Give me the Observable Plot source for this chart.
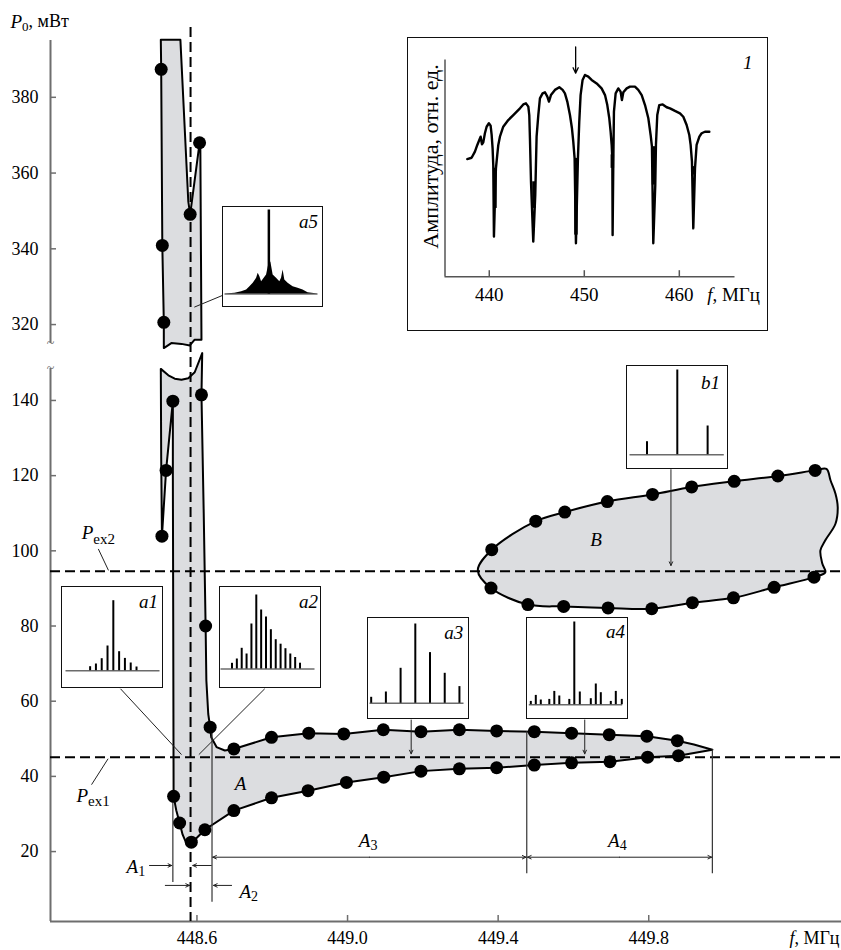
<!DOCTYPE html>
<html><head><meta charset="utf-8">
<script src="https://cdn.jsdelivr.net/npm/d3@7"></script>
<script src="https://cdn.jsdelivr.net/npm/@observablehq/plot@0.6"></script>
<style>
body{margin:0;background:#fff;}
#wrap{position:relative;width:841px;height:950px;font-family:"Liberation Serif","DejaVu Serif",serif;}
#wrap > svg{position:absolute;left:0;top:0;}
#wrap svg text{font-family:"Liberation Serif","DejaVu Serif",serif !important;}
.inset{position:absolute;background:#fff;border:1.5px solid #111;box-sizing:border-box;}
.inset svg{position:absolute;left:0;top:0;}
</style></head><body><div id="wrap"></div>
<script>
// ================= DATA =================
const freqTicks = [448.6, 449.0, 449.4, 449.8];
const powerTicksLow = [20, 40, 60, 80, 100, 120, 140];
const powerTicksUp = [320, 340, 360, 380];
const fCenter = 448.583;           // dashed vertical line, MHz
const Pex1 = 45.1, Pex2 = 94.6;    // thresholds, mW

// upper panel (P0 > 315 mW)
const upperDotF = [448.505, 448.508, 448.512, 448.582, 448.607];
const upperDotP = [387.4, 340.9, 320.6, 349.1, 368.0];
const upperRegionF = [448.504, 448.556, 448.577, 448.582, 448.607, 448.609, 448.612, 448.594, 448.581, 448.559, 448.532, 448.512, 448.512, 448.508, 448.505];
const upperRegionP = [395.2, 395.2, 352.5, 349.1, 368.0, 366.8, 316.0, 316.0, 314.5, 314.9, 315.1, 313.8, 320.6, 340.9, 387.4];

// region A – measured points
const leftDotF = [448.507, 448.518, 448.536, 448.612, 448.623, 448.635, 448.538, 448.554, 448.585];
const leftDotP = [103.9, 121.4, 139.8, 141.5, 80.0, 53.1, 34.7, 27.6, 22.5];
const aUpperF = [448.698, 448.798, 448.897, 448.990, 449.095, 449.195, 449.297, 449.396, 449.496, 449.595, 449.695, 449.795, 449.876];
const aUpperP = [47.3, 50.4, 51.5, 51.3, 52.4, 51.9, 52.4, 52.1, 51.9, 51.5, 51.1, 50.7, 49.5];
const aLowerF = [448.621, 448.698, 448.798, 448.895, 448.997, 449.096, 449.195, 449.297, 449.396, 449.496, 449.595, 449.697, 449.797, 449.879];
const aLowerP = [25.8, 30.9, 34.3, 36.2, 38.4, 39.8, 41.4, 42.0, 42.3, 43.0, 43.6, 43.9, 45.1, 45.5];
// region A – outline
const regionAF = [448.504, 448.524, 448.541, 448.559, 448.577, 448.594, 448.614, 448.612, 448.618, 448.623, 448.625, 448.630, 448.635, 448.638, 448.652, 448.674, 448.698, 448.798, 448.897, 448.990, 449.095, 449.195, 449.297, 449.396, 449.496, 449.595, 449.695, 449.795, 449.876, 449.920, 449.969, 449.920, 449.879, 449.797, 449.697, 449.595, 449.496, 449.396, 449.297, 449.195, 449.096, 448.997, 448.895, 448.798, 448.698, 448.621, 448.603, 448.585, 448.572, 448.562, 448.554, 448.545, 448.538, 448.537, 448.536, 448.536, 448.518, 448.507, 448.505];
const regionAP = [148.4, 146.7, 145.8, 145.5, 145.9, 147.5, 152.6, 141.5, 110.0, 80.0, 65.5, 56.6, 53.1, 50.4, 47.8, 46.9, 47.3, 50.4, 51.5, 51.3, 52.4, 51.9, 52.4, 52.1, 51.9, 51.5, 51.1, 50.7, 49.5, 48.5, 47.1, 46.2, 45.5, 45.1, 43.9, 43.6, 43.0, 42.3, 42.0, 41.4, 39.8, 38.4, 36.2, 34.3, 30.9, 25.8, 24.0, 22.2, 22.2, 24.5, 27.6, 31.0, 34.7, 80.0, 120.0, 139.8, 121.4, 103.9, 125.0];

// region B
const bUpperF = [449.383, 449.500, 449.577, 449.690, 449.810, 449.914, 450.027, 450.143, 450.242];
const bUpperP = [100.3, 107.9, 110.3, 113.1, 115.0, 117.0, 118.5, 119.9, 121.4];
const bLowerF = [449.381, 449.479, 449.574, 449.692, 449.808, 449.916, 450.025, 450.133, 450.239];
const bLowerP = [90.1, 85.7, 85.2, 84.8, 84.6, 86.2, 87.5, 90.3, 93.0];
const bEdgeF = [450.272, 450.283, 450.296, 450.302, 450.296, 450.269, 450.256, 450.261, 450.269];
const bEdgeP = [121.8, 118.7, 115.2, 111.6, 107.2, 102.8, 100.1, 96.6, 94.3];
const bTip = [449.346, 94.8];

// ranges A1..A4 (MHz)
const markerF  = [448.536, 448.640, 449.476, 449.969];
const markerP1 = [34.7, 52.2, 51.9, 47.1];
const markerP2 = [11.8, 6.5, 14.1, 14.1];

// inset 1: amplitude vs frequency
const insetTicks = [440, 450, 460];
const insetF = [437.68, 438.14, 438.49, 438.74, 438.95, 439.09, 439.23, 439.37, 439.54, 439.72, 439.96, 440.14, 440.25, 440.35, 440.42, 440.49, 440.63, 440.70, 440.84, 440.95, 441.12, 441.47, 442.0, 442.53, 443.23, 443.58, 443.86, 444.11, 444.21, 444.28, 444.39, 444.63, 444.84, 444.91, 444.98, 445.16, 445.33, 445.61, 445.86, 446.11, 446.28, 446.49, 446.91, 447.37, 447.72, 447.96, 448.21, 448.49, 448.70, 448.84, 448.98, 449.12, 449.33, 449.47, 449.61, 449.82, 450.07, 450.42, 450.77, 451.30, 451.82, 452.18, 452.42, 452.63, 452.77, 452.88, 452.95, 452.98, 453.05, 453.12, 453.30, 453.58, 453.82, 453.96, 454.11, 454.46, 454.81, 455.33, 455.68, 456.04, 456.39, 456.74, 456.98, 457.12, 457.26, 457.47, 457.54, 457.68, 457.89, 458.25, 458.67, 459.02, 459.54, 460.07, 460.42, 460.77, 461.05, 461.19, 461.33, 461.47, 461.65, 461.82, 462.11, 462.35, 462.70, 463.16];
const insetA = [54.3, 54.9, 57.7, 60.8, 63.1, 64.6, 61.1, 62.0, 66.2, 69.2, 70.8, 69.7, 65.4, 59.2, 51.5, 18.5, 40.8, 50.0, 56.2, 60.8, 64.6, 69.2, 72.3, 74.6, 77.7, 79.5, 80.0, 78.5, 74.6, 63.8, 43.8, 16.2, 37.7, 51.5, 64.6, 74.6, 82.3, 84.6, 85.1, 83.1, 80.8, 83.8, 86.2, 87.4, 86.2, 84.6, 80.8, 74.6, 68.5, 62.3, 54.6, 15.4, 54.6, 71.5, 83.8, 90.8, 93.1, 92.3, 90.8, 89.2, 86.9, 83.8, 79.2, 73.1, 66.9, 60.8, 54.6, 19.2, 51.5, 76.2, 84.6, 86.9, 85.4, 81.5, 85.1, 86.9, 87.7, 87.7, 86.2, 83.8, 79.2, 73.1, 65.4, 60.0, 15.4, 42.3, 60.8, 74.6, 79.2, 79.5, 78.2, 77.7, 76.5, 75.4, 73.8, 70.0, 65.4, 60.8, 53.1, 22.3, 50.0, 60.8, 64.6, 66.2, 66.9, 66.9];
const dipF = [440.60, 444.70, 449.12, 452.95, 457.28, 461.54];
const dipTop = [50.0, 43.8, 54.6, 56.2, 60.0, 50.8];
const dipBottom = [31.5, 31.5, 19.2, 50.0, 42.3, 46.9];
const insetArrowF = 449.09;

// spectra insets (relative line index, relative amplitude)
const a1X = [-4, -3, -2, -1, 0, 1, 2, 3, 4];
const a1H = [4, 6.7, 12, 24.7, 70, 19, 12.3, 7.7, 3.7];
const a2X = [0, 1, 2, 3, 4, 5, 6, 7, 8, 9, 10, 11, 12, 13, 14];
const a2H = [5.7, 10, 20.7, 15, 45, 74, 59, 52, 39.3, 29.3, 24.8, 20.3, 15, 11.5, 5.8];
const a3X = [-3, -2, -1, 0, 1, 2, 3];
const a3H = [6, 11.3, 35, 79.3, 50.7, 30, 16.7];
const a4X = [-8.7, -7.7, -6.7, -5, -4, -3, -1, 0, 1.1, 3.3, 4.3, 5.3, 7.3, 8.3, 9.5];
const a4H = [3.3, 9.3, 4.7, 5.3, 13.3, 8.7, 5.3, 82.7, 12.7, 6, 20.7, 12, 3.3, 13.3, 5.3];
const b1X = [-1, 0, 1];
const b1H = [13, 84.7, 28.7];
const a5X = [-44, -34, -27.3, -22.3, -19, -15.7, -12.3, -10.7, -9, -7.3, -4.7, -2.3, 0, 2, 4.3, 7.7, 11, 12.7, 14.3, 16, 19.3, 24.3, 29.3, 34.3, 39.3, 49.3];
const a5H = [0, 0.7, 2.3, 4, 7.3, 10.7, 15.7, 20.7, 17.3, 12.3, 15.7, 19, 30, 32, 19, 15.7, 12.3, 15.7, 24, 14, 10.7, 7.3, 5.7, 4, 1.3, 0];
const a5Peak = 84;

// ================= HELPERS =================
const FONT = '"Liberation Serif", "DejaVu Serif", serif';
const GRAY = "#dcdde0", AX = "#6e6e6e";
const wrap = document.getElementById("wrap");
const ctx = document.createElement("canvas").getContext("2d");
function textW(t, size, italic) { ctx.font = `${italic ? "italic " : ""}${size}px "Liberation Serif"`; return ctx.measureText(t).width; }
function T(data, opts) { return Plot.text(data, {fontFamily: FONT, ...opts}); }
function rich(x, y, parts, {anchor = "start", dx = 0, dy = 0} = {}) {
  const ws = parts.map(p => textW(p.t, p.size, p.italic));
  const total = d3.sum(ws);
  let off = anchor === "start" ? 0 : anchor === "end" ? -total : -total / 2;
  return parts.map((p, i) => {
    const m = T([0], {x, y, text: () => p.t, fontSize: p.size, fontStyle: p.italic ? "italic" : "normal",
      textAnchor: "start", lineAnchor: "middle", dx: dx + off, dy: dy + (p.shift || 0)});
    off += ws[i];
    return m;
  });
}
const sub = (main, s, size = 19, ssize = 14, shift = 5) => [{t: main, italic: true, size}, {t: s, size: ssize, shift}];
const pts = (F, P) => F.map((f, i) => ({f, p: P[i]}));

const X = {domain: [448.211, 450.312], range: [50, 841], axis: null};
const YL = {domain: [1.4, 148.5], range: [921, 368], axis: null};
const YU = {domain: [315, 395], range: [343, 40], axis: null};
const xS = d3.scaleLinear(X.domain, X.range);
const yLS = d3.scaleLinear(YL.domain, YL.range);
const yUS = d3.scaleLinear(YU.domain, YU.range);
const x0 = X.domain[0], x1 = X.domain[1];
const tickEndX = xS.invert(X.range[0] + 6);

// ================= LOWER PANEL =================
const regionA = pts(regionAF, regionAP);
const regionB = [{f: bTip[0], p: bTip[1]}, ...pts(bUpperF, bUpperP), ...pts(bEdgeF, bEdgeP), ...pts(bLowerF, bLowerP).reverse()];
const lowerDots = [...pts(leftDotF, leftDotP), ...pts(aUpperF, aUpperP), ...pts(aLowerF, aLowerP), ...pts(bUpperF, bUpperP), ...pts(bLowerF, bLowerP)];
const markers = markerF.map((f, i) => ({f, p1: markerP1[i], p2: markerP2[i]}));
const yA = 18.5;
const rangeArrows = [
  {f1: 448.474, f2: 448.533, p: 16.3}, {f1: 448.516, f2: 448.580, p: 11.0},
  {f1: 448.692, f2: 448.644, p: 11.0}, {f1: 448.638, f2: 448.589, p: 16.3},
  {f1: (markerF[1] + markerF[2]) / 2, f2: markerF[1] + 0.002, p: yA}, {f1: (markerF[1] + markerF[2]) / 2, f2: markerF[2] - 0.002, p: yA},
  {f1: (markerF[2] + markerF[3]) / 2, f2: markerF[2] + 0.002, p: yA}, {f1: (markerF[2] + markerF[3]) / 2, f2: markerF[3] - 0.002, p: yA}
];
const insetArrows = [
  {f: 449.169, p1: 55.0, p2: 46.0}, {f: 449.630, p1: 55.0, p2: 46.0}, {f: 449.859, p1: 121.6, p2: 96.1}
];
const leaders = [
  {fa: 448.397, pa: 63.3, fb: 448.559, pb: 45.8}, {fa: 448.780, pa: 63.3, fb: 448.605, pb: 45.8},
  {fa: 448.338, pa: 100.5, fb: 448.365, pb: 94.8}, {fa: 448.320, pa: 37.8, fb: 448.364, pb: 44.7}
];

const lower = Plot.plot({
  width: 841, height: 950, x: X, y: YL,
  style: {background: "transparent", fontFamily: FONT, overflow: "visible"},
  marks: [
    Plot.line(regionA, {x: "f", y: "p", curve: "linear-closed", fill: GRAY, stroke: "black", strokeWidth: 2, strokeLinejoin: "round"}),
    Plot.line(regionB, {x: "f", y: "p", curve: "catmull-rom-closed", fill: GRAY, stroke: "black", strokeWidth: 2}),
    Plot.ruleX([x0], {y1: YL.domain[0], y2: YL.domain[1], stroke: AX, strokeWidth: 2}),
    Plot.ruleY([YL.domain[0]], {x1: x0, x2: x1, stroke: AX, strokeWidth: 2}),
    Plot.ruleY(powerTicksLow, {x1: x0, x2: tickEndX, stroke: AX, strokeWidth: 1.5}),
    Plot.ruleX(freqTicks, {y1: YL.domain[0], y2: yLS.invert(YL.range[0] - 6), stroke: AX, strokeWidth: 1.5}),
    T(powerTicksLow, {x: x0, y: d => d, text: d => String(d), textAnchor: "end", dx: -12, fontSize: 18}),
    T(freqTicks, {x: d => d, y: YL.domain[0], text: d => d.toFixed(1), dy: 17, fontSize: 18}),
    T(["~"], {x: x0, y: YL.domain[1], text: d => d, fontSize: 14, fill: AX}),
    ...rich(x1, YL.domain[0], [{t: "f", italic: true, size: 18}, {t: ", МГц", size: 18}], {anchor: "end", dx: -2, dy: 17}),
    Plot.ruleY([Pex1, Pex2], {x1: x0, x2: x1, stroke: "black", strokeWidth: 2, strokeDasharray: "10,5"}),
    Plot.ruleX(markers, {x: "f", y1: "p1", y2: "p2", stroke: "#333", strokeWidth: 1.2}),
    Plot.arrow(rangeArrows, {x1: "f1", x2: "f2", y1: "p", y2: "p", headLength: 6, headAngle: 50, stroke: "#222", strokeWidth: 1}),
    Plot.arrow(insetArrows, {x1: "f", x2: "f", y1: "p1", y2: "p2", headLength: 6, headAngle: 50, stroke: "#222", strokeWidth: 1}),
    Plot.link(leaders, {x1: "fa", y1: "pa", x2: "fb", y2: "pb", stroke: "#222", strokeWidth: 1}),
    Plot.dot(lowerDots, {x: "f", y: "p", r: 6.5, fill: "black"}),
    ...rich(448.413, 16.0, sub("A", "1")),
    ...rich(448.713, 9.4, sub("A", "2")),
    ...rich(449.030, 22.9, sub("A", "3")),
    ...rich(449.692, 22.9, sub("A", "4")),
    ...rich(448.294, 104.7, sub("P", "ex2", 19, 15, 6)),
    ...rich(448.280, 34.9, sub("P", "ex1", 19, 15, 6)),
    T(["A"], {x: 448.716, y: 38.0, text: d => d, fontStyle: "italic", fontSize: 19}),
    T(["B"], {x: 449.660, y: 102.8, text: d => d, fontStyle: "italic", fontSize: 19})
  ]
});
wrap.appendChild(lower);

// ================= UPPER PANEL =================
const upper = Plot.plot({
  width: 841, height: 950, x: X, y: YU,
  style: {background: "transparent", fontFamily: FONT, overflow: "visible"},
  marks: [
    Plot.line(pts(upperRegionF, upperRegionP), {x: "f", y: "p", curve: "linear-closed", fill: GRAY, stroke: "black", strokeWidth: 2, strokeLinejoin: "round"}),
    Plot.ruleX([x0], {y1: YU.domain[0], y2: YU.domain[1], stroke: AX, strokeWidth: 2}),
    Plot.ruleY(powerTicksUp, {x1: x0, x2: tickEndX, stroke: AX, strokeWidth: 1.5}),
    T(powerTicksUp, {x: x0, y: d => d, text: d => String(d), textAnchor: "end", dx: -12, fontSize: 18}),
    T(["~"], {x: x0, y: YU.domain[0], text: d => d, fontSize: 14, fill: AX}),
    ...rich(x0, yUS.invert(21), [{t: "P", italic: true, size: 19}, {t: "0", size: 13, shift: 5}, {t: ", мВт", size: 18}], {dx: -40}),
    Plot.ruleX([fCenter], {y1: yUS.invert(27), y2: yUS.invert(YL.range[0]), stroke: "black", strokeWidth: 2, strokeDasharray: "10,5"}),
    Plot.link([{fa: 448.668, pa: 327.7, fb: 448.593, pb: 324.6}], {x1: "fa", y1: "pa", x2: "fb", y2: "pb", stroke: "#222", strokeWidth: 1}),
    Plot.dot(pts(upperDotF, upperDotP), {x: "f", y: "p", r: 6.5, fill: "black"})
  ]
});
wrap.appendChild(upper);

// ================= INSETS =================
function insetDiv(left, top, w, h) {
  const div = document.createElement("div");
  div.className = "inset";
  Object.assign(div.style, {left: left + "px", top: top + "px", width: w + "px", height: h + "px"});
  wrap.appendChild(div);
  return div;
}
function spectrumInset({left, top, w, h, xs, hs, xDomain, mL, mR, mT, mB, label, lx, ly}) {
  const div = insetDiv(left, top, w, h);
  const W = w - 3, H = h - 3;
  const data = xs.map((x, i) => ({x, h: hs[i]}));
  div.appendChild(Plot.plot({
    width: W, height: H, marginLeft: mL, marginRight: mR, marginTop: mT, marginBottom: mB,
    x: {domain: xDomain, axis: null}, y: {domain: [0, d3.max(hs)], axis: null},
    style: {background: "transparent", fontFamily: FONT, overflow: "visible"},
    marks: [
      Plot.ruleY([0], {x1: xDomain[0], x2: xDomain[1], stroke: "#6b6b6b", strokeWidth: 1.5}),
      Plot.ruleX(data, {x: "x", y1: 0, y2: "h", stroke: "black", strokeWidth: 2}),
      T([label], {frameAnchor: "top-right", text: d => d, dx: lx - (W - mR), dy: ly - mT, fontSize: 19, fontStyle: "italic", textAnchor: "end", lineAnchor: "middle"})
    ]
  }));
}
spectrumInset({left: 61, top: 586, w: 102, h: 102, xs: a1X, hs: a1H, xDomain: [-8.16, 8.05], mL: 3.5, mR: 1.5, mT: 13.2, mB: 15.8, label: "a1", lx: 95.5, ly: 14.5});
spectrumInset({left: 219, top: 586, w: 102, h: 102, xs: a2X, hs: a2H, xDomain: [-2.26, 17.08], mL: 0.5, mR: 4.5, mT: 7.5, mB: 17.5, label: "a2", lx: 97.5, ly: 14.5});
spectrumInset({left: 367, top: 617, w: 102, h: 102, xs: a3X, hs: a3H, xDomain: [-3.08, 3.31], mL: 1.5, mR: 3.5, mT: 5.5, mB: 14.2, label: "a3", lx: 94.8, ly: 14});
spectrumInset({left: 526, top: 617, w: 102, h: 102, xs: a4X, hs: a4H, xDomain: [-9, 9.68], mL: 1.8, mR: 3.8, mT: 3.5, mB: 12.8, label: "a4", lx: 97.5, ly: 13.5});
spectrumInset({left: 626, top: 365, w: 102, h: 104, xs: b1X, hs: b1H, xDomain: [-1.56, 1.55], mL: 2.5, mR: 2.2, mT: 3.5, mB: 12.8, label: "b1", lx: 92.5, ly: 16});

// a5 – noisy spectrum
{
  const div = insetDiv(222, 206, 101, 101);
  const W = 98, H = 98, mL = 1.5, mR = 3.5, mT = 2.5, mB = 11.5;
  const prof = a5X.map((x, i) => ({x, h: a5H[i]}));
  div.appendChild(Plot.plot({
    width: W, height: H, marginLeft: mL, marginRight: mR, marginTop: mT, marginBottom: mB,
    x: {domain: [a5X[0], a5X[a5X.length - 1]], axis: null}, y: {domain: [0, a5Peak], axis: null},
    style: {background: "transparent", fontFamily: FONT, overflow: "visible"},
    marks: [
      Plot.ruleY([0], {x1: a5X[0], x2: a5X[a5X.length - 1], stroke: "#6b6b6b", strokeWidth: 1.5}),
      Plot.areaY(prof, {x: "x", y: "h", fill: "black"}),
      Plot.ruleX([0], {y1: 0, y2: a5Peak, stroke: "black", strokeWidth: 2.5}),
      T(["a5"], {frameAnchor: "top-right", text: d => d, dx: 94.5 - (W - mR), dy: 14.5 - mT, fontSize: 19, fontStyle: "italic", textAnchor: "end", lineAnchor: "middle"})
    ]
  }));
}

// inset 1 – amplitude response
{
  const div = insetDiv(407, 37, 361, 294);
  const W = 358, H = 291, mL = 36.5, mR = 31.5, mT = 21.5, mB = 52.8;
  const fx = [435.34, 465.86];
  const yS = d3.scaleLinear([0, 100], [H - mB, mT]);
  const trace = insetF.map((f, i) => ({f, a: insetA[i]}));
  const dips = dipF.map((f, i) => ({f, a1: dipTop[i], a2: dipBottom[i]}));
  div.appendChild(Plot.plot({
    width: W, height: H, marginLeft: mL, marginRight: mR, marginTop: mT, marginBottom: mB,
    x: {domain: fx, axis: null}, y: {domain: [0, 100], axis: null},
    style: {background: "transparent", fontFamily: FONT, overflow: "visible"},
    marks: [
      Plot.ruleX([fx[0]], {y1: 0, y2: 100, stroke: "#555", strokeWidth: 1.5}),
      Plot.ruleY([0], {x1: fx[0], x2: fx[1], stroke: "#555", strokeWidth: 1.5}),
      Plot.ruleX(insetTicks, {y1: 0, y2: yS.invert(H - mB - 6), stroke: "#555", strokeWidth: 1.5}),
      T(insetTicks, {x: d => d, y: 0, text: d => String(d), dy: 18, fontSize: 19}),
      ...rich(fx[1], 0, [{t: "f", italic: true, size: 19}, {t: ", МГц", size: 19}], {anchor: "end", dx: 25, dy: 18}),
      T(["Амплитуда, отн. ед."], {x: fx[0], y: 55.5, text: d => d, rotate: -90, dx: -13.8, fontSize: 22}),
      Plot.line(trace, {x: "f", y: "a", stroke: "black", strokeWidth: 2.4, strokeLinejoin: "round"}),
      Plot.ruleX(dips, {x: "f", y1: "a1", y2: "a2", stroke: "black", strokeWidth: 3.5}),
      Plot.arrow([0], {x1: insetArrowF, x2: insetArrowF, y1: 106, y2: 93.9, headLength: 7, headAngle: 50, stroke: "black", strokeWidth: 1.3}),
      T(["1"], {x: 467.2, y: 98.6, text: d => d, fontStyle: "italic", fontSize: 19})
    ]
  }));
}
</script></body></html>
